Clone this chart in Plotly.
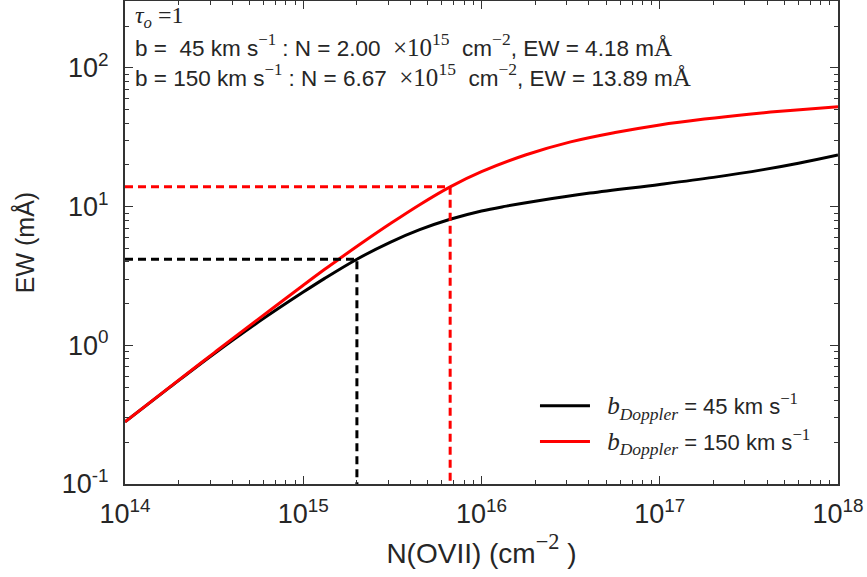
import plotly.graph_objects as go

# ---- data ----
n_b45 = [1.0e14, 1.78e14, 3.16e14, 5.62e14, 1.0e15, 1.32e15, 2.0e15, 3.07e15, 4.5e15,
         6.67e15, 1.0e16, 1.38e16, 2.0e16, 4.06e16, 1.0e17, 2.0e17, 3.81e17, 6.0e17, 1.0e18]
ew_b45 = [0.281, 0.497, 0.869, 1.476, 2.42, 3.04, 4.18, 5.53, 6.82,
          8.11, 9.31, 10.09, 10.94, 12.53, 14.45, 16.26, 18.49, 20.56, 23.6]

n_b150 = [1.0e14, 1.78e14, 3.16e14, 5.62e14, 1.0e15, 1.32e15, 1.61e15, 2.2e15, 3.07e15,
          4.5e15, 6.67e15, 1.0e16, 1.78e16, 3.16e16, 5.62e16, 1.0e17, 1.78e17, 3.16e17,
          5.62e17, 1.0e18]
ew_b150 = [0.281, 0.50, 0.883, 1.552, 2.714, 3.536, 4.242, 5.623, 7.516,
           10.33, 13.89, 17.86, 23.66, 29.31, 34.23, 38.86, 42.85, 46.45,
           49.66, 52.6]

# tau_0 = 1 markers
n_tau1 = [2.00e15, 6.67e15]
ew_tau1 = [4.18, 13.89]
n_start = 1e14
ew_floor = 0.1

x_tickvals = [1e14, 1e15, 1e16, 1e17, 1e18]
x_ticktext = ["10<sup>14</sup>", "10<sup>15</sup>", "10<sup>16</sup>", "10<sup>17</sup>", "10<sup>18</sup>"]
y_tickvals = [0.1, 1, 10, 100]
y_ticktext = ["10<sup>-1</sup>", "10<sup>0</sup>", "10<sup>1</sup>", "10<sup>2</sup>"]
x_minor = [k * 10.0 ** e for e in range(14, 18) for k in range(2, 10)]
y_minor = [k * 10.0 ** e for e in range(-1, 3) for k in range(2, 10)]

SANS = "Liberation Sans, Arial, sans-serif"
SERIF = "Liberation Serif, DejaVu Serif, serif"
TXT = "#262626"
AX = "#333333"

def m(s, size=None):
    st = f"font-family:{SERIF}" + (f";font-size:{size}px" if size else "")
    return f"<span style='{st}'>{s}</span>"

NB = "\u00a0"

fig = go.Figure()

fig.add_trace(go.Scatter(
    x=n_b45, y=ew_b45, mode="lines", line=dict(color="black", width=3, shape="spline", smoothing=1.0),
    name=NB * 2 + m("<i>b</i><sub><i>Doppler</i></sub>", 25) + " = 45 km s" + m("<sup>−1</sup>", 24),
    legendgroup="a"))
fig.add_trace(go.Scatter(
    x=n_b150, y=ew_b150, mode="lines", line=dict(color="#ff0000", width=3, shape="spline", smoothing=1.0),
    name=NB * 2 + m("<i>b</i><sub><i>Doppler</i></sub>", 25) + " = 150 km s" + m("<sup>−1</sup>", 24),
    legendgroup="b"))

dash_colors = ["black", "#ff0000"]
for n, ew, c in zip(n_tau1, ew_tau1, dash_colors):
    fig.add_trace(go.Scatter(
        x=[n_start, n, n], y=[ew, ew, ew_floor], mode="lines",
        line=dict(color=c, width=3, dash="8px,5px"), showlegend=False, hoverinfo="skip"))

lines = [
    m("<i>τ</i><sub><i>o</i></sub> =1", 24),
    "b =" + NB + NB + "45 km s" + m("<sup>−1</sup>", 24) + " : N = 2.00 " + NB + m("×10<sup>15</sup>", 25) + NB + " cm"
    + m("<sup>−2</sup>", 25) + ", EW = 4.18 m" + m("Å", 25),
    "b = 150 km s" + m("<sup>−1</sup>", 24) + " : N = 6.67 " + NB + m("×10<sup>15</sup>", 25) + NB + " cm"
    + m("<sup>−2</sup>", 25) + ", EW = 13.89 m" + m("Å", 25),
]
ys_px = [17, 45, 75]
plot_top, plot_bot = 1, 484
for t, yp in zip(lines, ys_px):
    fig.add_annotation(text=t, xref="paper", yref="paper", x=(133 - 125) / 713,
                       y=(plot_bot - yp) / (plot_bot - plot_top), xanchor="left", yanchor="middle",
                       showarrow=False, font=dict(family=SANS, size=22.5, color=TXT))

def minor(vals):
    return dict(tickmode="array", tickvals=vals, ticks="inside", ticklen=4, tickwidth=1,
                tickcolor=AX, showgrid=False)

base = dict(type="log", showline=True, linecolor=AX, linewidth=2, mirror=False,
            ticks="inside", ticklen=8, tickwidth=1.2, tickcolor=AX, showgrid=False, zeroline=False)

fig.update_layout(
    xaxis=dict(range=[14, 18], tickvals=x_tickvals, ticktext=x_ticktext,
               tickfont=dict(family=SANS, size=27, color=TXT), ticklabelstandoff=5,
               title=dict(text="N(OVII) (cm" + m("<sup>−2</sup>", 32) + " )",
                          font=dict(family=SANS, size=28, color=TXT), standoff=10),
               minor=minor(x_minor), **base),
    yaxis=dict(range=[-1, 2.483], tickvals=y_tickvals, ticktext=y_ticktext,
               tickfont=dict(family=SANS, size=27, color=TXT), ticklabelstandoff=9,
               title=dict(text="EW (mÅ)", font=dict(family=SANS, size=25, color=TXT), standoff=20),
               minor=minor(y_minor), **base),
    xaxis2=dict(range=[14, 18], overlaying="x", side="top", anchor="y",
                tickvals=x_tickvals, showticklabels=False, minor=minor(x_minor), **base),
    yaxis2=dict(range=[-1, 2.483], overlaying="y", side="right", anchor="x",
                tickvals=y_tickvals, showticklabels=False, minor=minor(y_minor), **base),
)
fig.add_trace(go.Scatter(x=[], y=[], xaxis="x2", yaxis="y2", showlegend=False, hoverinfo="skip"))

fig.update_layout(
    width=867, height=577,
    margin=dict(l=125, r=29, t=1, b=93),
    paper_bgcolor="white", plot_bgcolor="white",
    showlegend=True,
    legend=dict(x=0.575, y=0.205, xanchor="left", yanchor="top", bgcolor="rgba(0,0,0,0)",
                font=dict(family=SANS, size=22, color=TXT), itemwidth=50, tracegroupgap=4),
)

fig.write_html("out.html")
